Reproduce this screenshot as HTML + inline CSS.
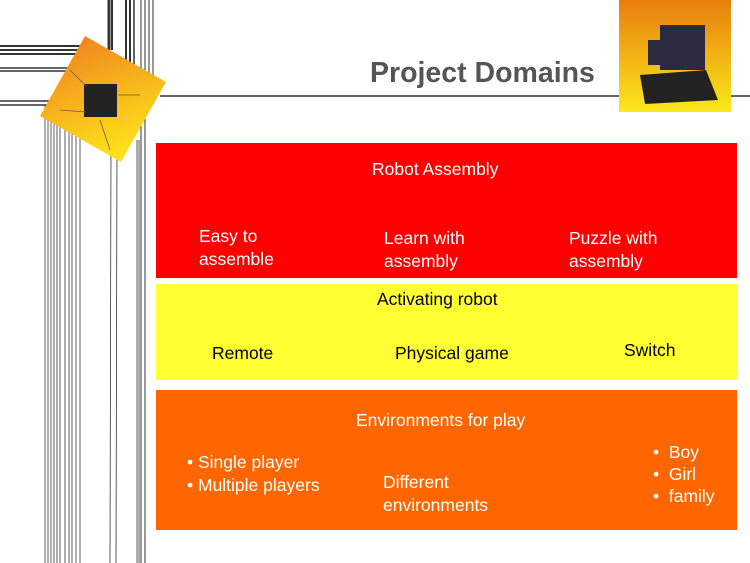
<!DOCTYPE html>
<html><head><meta charset="utf-8"><style>
body{margin:0;width:750px;height:563px;background:#fff;position:relative;overflow:hidden;font-family:"Liberation Sans",sans-serif}
.t{position:absolute;font-size:17.5px;line-height:23px;white-space:nowrap}
.w{color:#fff}.k{color:#000}
.box{position:absolute;left:156px;width:581px}
</style></head><body>
<svg width="750" height="563" style="position:absolute;left:0;top:0">
<g stroke="#333" fill="none" stroke-width="0.8">
<line x1="0" y1="46" x2="80" y2="46" stroke-width="2"/>
<line x1="0" y1="50" x2="80" y2="50" stroke-width="2"/>
<line x1="0" y1="54" x2="80" y2="54" stroke-width="2"/>
<line x1="0" y1="68" x2="70" y2="68" stroke-width="1.5"/>
<line x1="0" y1="71" x2="70" y2="71" stroke-width="1.5"/>
<line x1="0" y1="101" x2="50" y2="101" stroke-width="1.5"/>
<line x1="0" y1="105" x2="50" y2="105" stroke-width="1.5"/>
<line x1="109" y1="0" x2="109" y2="50" stroke-width="3"/>
<line x1="112" y1="0" x2="112" y2="50" stroke-width="2"/>
<line x1="126" y1="0" x2="126" y2="80" stroke-width="2"/>
<line x1="130" y1="0" x2="130" y2="80" stroke-width="2"/>
<line x1="134" y1="0" x2="134" y2="80" stroke-width="1.5"/>
<line x1="141" y1="0" x2="141" y2="563" stroke-width="1"/>
<line x1="145" y1="0" x2="145" y2="563" stroke-width="1"/>
<line x1="149" y1="0" x2="149" y2="100" stroke-width="1"/>
<line x1="153" y1="0" x2="153" y2="100" stroke-width="1"/>
<line x1="45" y1="105" x2="45" y2="563"/>
<line x1="48" y1="105" x2="48" y2="563"/>
<line x1="51" y1="105" x2="51" y2="563"/>
<line x1="54" y1="105" x2="54" y2="563"/>
<line x1="57" y1="105" x2="57" y2="563"/>
<line x1="60" y1="105" x2="60" y2="563"/>
<line x1="65" y1="110" x2="65" y2="563"/>
<line x1="69" y1="110" x2="69" y2="563"/>
<line x1="72" y1="110" x2="72" y2="563"/>
<line x1="76" y1="110" x2="76" y2="563"/>
<line x1="80" y1="110" x2="80" y2="563"/>
<line x1="111" y1="140" x2="110" y2="563"/>
<line x1="117" y1="140" x2="116" y2="563"/>
<line x1="137" y1="140" x2="137" y2="563"/>
<line x1="139" y1="140" x2="139" y2="563"/>
<line x1="160" y1="96" x2="750" y2="96" stroke-width="1.5"/>
</g>
<defs>
<linearGradient id="g1" x1="0" y1="0" x2="0.4" y2="1"><stop offset="0" stop-color="#ee7a20"/><stop offset="1" stop-color="#fde01a"/></linearGradient>
<linearGradient id="g2" x1="0" y1="0" x2="0" y2="1"><stop offset="0" stop-color="#e87e0c"/><stop offset="1" stop-color="#fbe81c"/></linearGradient>
</defs>
<polygon points="85,36 166,82 121,162 40,116" fill="url(#g1)"/>
<rect x="84" y="84" width="33" height="33" fill="#222"/>
<g stroke="#7a5a20" stroke-width="0.8">
<line x1="70" y1="70" x2="86" y2="86"/><line x1="60" y1="110" x2="86" y2="112"/><line x1="100" y1="120" x2="110" y2="150"/><line x1="118" y1="95" x2="140" y2="95"/>
</g>
<rect x="619" y="0" width="112" height="112" fill="url(#g2)"/>
<polygon points="640,75 706,70 718,100 645,104" fill="#222"/>
<rect x="660" y="25" width="45" height="45" fill="#2a2a40"/>
<rect x="648" y="40" width="15" height="25" fill="#2a2a40"/>
</svg>
<div style="position:absolute;left:370px;top:57px;font-size:28.5px;font-weight:bold;color:#555">Project Domains</div>
<div class="box" style="top:143px;height:135px;background:#ff0000"></div>
<div class="box" style="top:284px;height:96px;background:#ffff33"></div>
<div class="box" style="top:390px;height:140px;background:#ff6600"></div>
<div class="t w" style="left:372px;top:158px">Robot Assembly</div>
<div class="t w" style="left:199px;top:225px">Easy to<br>assemble</div>
<div class="t w" style="left:384px;top:227px">Learn with<br>assembly</div>
<div class="t w" style="left:569px;top:227px">Puzzle with<br>assembly</div>
<div class="t k" style="left:377px;top:288px">Activating robot</div>
<div class="t k" style="left:212px;top:342px">Remote</div>
<div class="t k" style="left:395px;top:342px">Physical game</div>
<div class="t k" style="left:624px;top:339px">Switch</div>
<div class="t w" style="left:356px;top:409px">Environments for play</div>
<div class="t w" style="left:187px;top:451px">• Single player<br>• Multiple players</div>
<div class="t w" style="left:383px;top:471px">Different<br>environments</div>
<div class="t w" style="left:653px;top:441px;line-height:22px">•&nbsp; Boy<br>•&nbsp; Girl<br>•&nbsp; family</div>
</body></html>
